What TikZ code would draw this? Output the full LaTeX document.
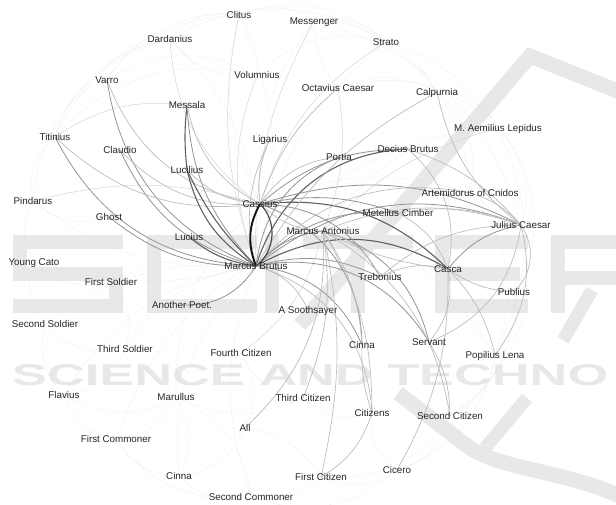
\documentclass[tikz,border=0pt]{standalone}
\usepackage{fontspec}
\setmainfont{Liberation Sans}
\pgfdeclarelayer{wmark}
\pgfdeclarelayer{edges}
\pgfsetlayers{wmark,edges,main}
\newcommand{\edg}[4]{\draw[#1] (#2.center) to[#3] (#4.center);}
\begin{document}
\begin{tikzpicture}[x=1pt,y=-1pt,
  lbl/.style={font=\fontsize{9.8}{11}\selectfont, text=black!85, inner sep=0pt, text height=7pt, text depth=0pt},
  eA/.style={draw=black!92, line width=1.9pt},
  eAA/.style={draw=black!70, line width=1.2pt},
  eB/.style={draw=black!62, line width=1.1pt},
  eC/.style={draw=black!42, line width=0.8pt},
  eD/.style={draw=black!27, line width=0.65pt},
  eE/.style={draw=black!16, line width=0.5pt},
  bgE/.style={draw=black!16, line width=0.35pt, densely dotted},
  wm/.style={draw=black!9, line width=14pt},
  wmt/.style={text=black!9, inner sep=0pt}]
\useasboundingbox (0,0) rectangle (616,504);
% ---------- nodes ----------
\node[lbl] (clitus) at (239,15) {Clitus};
\node[lbl] (messenger) at (314,21) {Messenger};
\node[lbl] (dardanius) at (170,39) {Dardanius};
\node[lbl] (strato) at (386,42) {Strato};
\node[lbl] (volumnius) at (257,75) {Volumnius};
\node[lbl] (octavius) at (338,88) {Octavius Caesar};
\node[lbl] (varro) at (107,80) {Varro};
\node[lbl] (calpurnia) at (437,92) {Calpurnia};
\node[lbl] (messala) at (187,105) {Messala};
\node[lbl] (lepidus) at (498,128) {M. Aemilius Lepidus};
\node[lbl] (titinius) at (55,137) {Titinius};
\node[lbl] (claudio) at (120,150) {Claudio};
\node[lbl] (ligarius) at (270,139) {Ligarius};
\node[lbl] (decius) at (408,149) {Decius Brutus};
\node[lbl] (portia) at (339,157) {Portia};
\node[lbl] (lucilius) at (187,170) {Lucilius};
\node[lbl] (pindarus) at (33,201) {Pindarus};
\node[lbl] (cassius) at (260,204) {Cassius};
\node[lbl] (ghost) at (109,217) {Ghost};
\node[lbl] (artemidorus) at (470,193) {Artemidorus of Cnidos};
\node[lbl] (metellus) at (398,213) {Metellus Cimber};
\node[lbl] (marcant) at (323,231) {Marcus Antonius};
\node[lbl] (julius) at (521,225) {Julius Caesar};
\node[lbl] (lucius) at (189,237) {Lucius};
\node[lbl] (youngcato) at (34,262) {Young Cato};
\node[lbl] (mb) at (256,266) {Marcus Brutus};
\node[lbl] (casca) at (448,269) {Casca};
\node[lbl] (trebonius) at (380,277) {Trebonius};
\node[lbl] (firstsoldier) at (111,282) {First Soldier};
\node[lbl] (publius) at (514,292) {Publius};
\node[lbl] (anotherpoet) at (182,305) {Another Poet.};
\node[lbl] (soothsayer) at (308,310) {A Soothsayer};
\node[lbl] (secondsoldier) at (45,324) {Second Soldier};
\node[lbl] (thirdsoldier) at (125,349) {Third Soldier};
\node[lbl] (fourthcit) at (241,353) {Fourth Citizen};
\node[lbl] (cinna) at (362,345) {Cinna};
\node[lbl] (servant) at (429,342) {Servant};
\node[lbl] (popilius) at (495,355) {Popilius Lena};
\node[lbl] (flavius) at (64,395) {Flavius};
\node[lbl] (marullus) at (176,397) {Marullus};
\node[lbl] (thirdcit) at (303,398) {Third Citizen};
\node[lbl] (citizens) at (372,413) {Citizens};
\node[lbl] (secondcit) at (450,416) {Second Citizen};
\node[lbl] (all) at (245,428) {All};
\node[lbl] (firstcommoner) at (116,439) {First Commoner};
\node[lbl] (cicero) at (397,470) {Cicero};
\node[lbl] (firstcit) at (321,477) {First Citizen};
\node[lbl] (cinnatwo) at (179,476) {Cinna};
\node[lbl] (secondcommoner) at (251,497) {Second Commoner};
% ---------- watermark ----------
\begin{pgfonlayer}{wmark}
\fill[white] (0,0) rectangle (616,504);
\draw[wm] (123,242) -- (20,242) -- (20,274) -- (116,274) -- (116,306) -- (13,306);
\draw[wm] (257,242) -- (154,242) -- (154,306) -- (257,306);
\draw[wm] (272,235) -- (272,313);
\draw[wm] (303,242) -- (413,242) (358,242) -- (358,313);
\draw[wm] (528,242) -- (442,242) -- (442,306) -- (528,306) (442,274) -- (520,274);
\draw[wm] (558,313) -- (558,242) -- (640,242) -- (640,278) -- (558,278);
\draw[wm, line width=15pt] (620,92) -- (530,56) -- (300,325);
\draw[wm, line width=15pt] (398,393) -- (470,448) .. controls (505,470) and (560,470) .. (620,496);
\draw[wm, line width=13pt] (485,448) -- (527,398) (563,340) -- (592,290);
\node[wmt, anchor=north west] (wmtext) at (12,364) {\resizebox{596pt}{21pt}{\bfseries SCIENCE AND TECHNO}};
\end{pgfonlayer}
% ---------- edges ----------
\begin{pgfonlayer}{edges}
% faint background
\edg{bgE}{clitus}{bend left=30}{messenger}
\edg{bgE}{clitus}{bend right=30}{dardanius}
\edg{bgE}{clitus}{bend left=20}{volumnius}
\edg{bgE}{clitus}{bend left=30}{strato}
\edg{bgE}{clitus}{bend right=30}{varro}
\edg{bgE}{clitus}{bend right=30}{titinius}
\edg{bgE}{clitus}{bend left=20}{mb}
\edg{bgE}{clitus}{bend right=20}{cassius}
\edg{bgE}{dardanius}{bend left=30}{strato}
\edg{bgE}{dardanius}{bend right=30}{volumnius}
\edg{bgE}{dardanius}{bend right=30}{titinius}
\edg{bgE}{dardanius}{bend right=35}{pindarus}
\edg{bgE}{dardanius}{bend left=25}{mb}
\edg{bgE}{messenger}{bend left=30}{strato}
\edg{bgE}{messenger}{bend right=20}{octavius}
\edg{bgE}{messenger}{bend left=30}{calpurnia}
\edg{bgE}{messenger}{bend left=30}{julius}
\edg{bgE}{messenger}{bend right=20}{cassius}
\edg{bgE}{strato}{bend right=30}{volumnius}
\edg{bgE}{strato}{bend left=20}{lepidus}
\edg{bgE}{strato}{bend left=25}{artemidorus}
\edg{bgE}{strato}{bend right=20}{mb}
\edg{bgE}{volumnius}{bend right=30}{varro}
\edg{bgE}{volumnius}{bend right=30}{titinius}
\edg{bgE}{octavius}{bend left=30}{lepidus}
\edg{bgE}{octavius}{bend left=25}{calpurnia}
\edg{bgE}{octavius}{bend right=25}{mb}
\edg{bgE}{calpurnia}{bend left=30}{lepidus}
\edg{bgE}{calpurnia}{bend left=30}{artemidorus}
\edg{bgE}{lepidus}{bend left=30}{julius}
\edg{bgE}{lepidus}{bend left=35}{publius}
\edg{bgE}{lepidus}{bend right=25}{marcant}
\edg{bgE}{lepidus}{bend left=25}{popilius}
\edg{bgE}{artemidorus}{bend left=35}{publius}
\edg{bgE}{artemidorus}{bend left=30}{popilius}
\edg{bgE}{julius}{bend left=35}{secondcit}
\edg{bgE}{publius}{bend left=30}{popilius}
\edg{bgE}{publius}{bend left=30}{secondcit}
\edg{bgE}{popilius}{bend left=30}{secondcit}
\edg{bgE}{popilius}{bend left=30}{cicero}
\edg{bgE}{secondcit}{bend left=30}{cicero}
\edg{bgE}{secondcit}{bend left=30}{firstcit}
\edg{bgE}{cicero}{bend left=30}{firstcit}
\edg{bgE}{cicero}{bend left=30}{secondcommoner}
\edg{bgE}{firstcit}{bend left=30}{secondcommoner}
\edg{bgE}{firstcit}{bend right=25}{all}
\edg{bgE}{secondcommoner}{bend left=30}{cinnatwo}
\edg{bgE}{secondcommoner}{bend left=30}{firstcommoner}
\edg{bgE}{secondcommoner}{bend right=30}{marullus}
\edg{bgE}{cinnatwo}{bend left=30}{firstcommoner}
\edg{bgE}{cinnatwo}{bend right=30}{marullus}
\edg{bgE}{cinnatwo}{bend right=30}{all}
\edg{bgE}{firstcommoner}{bend left=30}{flavius}
\edg{bgE}{firstcommoner}{bend right=30}{marullus}
\edg{bgE}{flavius}{bend right=30}{marullus}
\edg{bgE}{flavius}{bend left=30}{secondsoldier}
\edg{bgE}{flavius}{bend right=30}{thirdsoldier}
\edg{bgE}{marullus}{bend right=25}{thirdcit}
\edg{bgE}{thirdsoldier}{bend left=30}{secondsoldier}
\edg{bgE}{thirdsoldier}{bend right=30}{firstsoldier}
\edg{bgE}{secondsoldier}{bend left=30}{youngcato}
\edg{bgE}{youngcato}{bend left=30}{pindarus}
\edg{bgE}{youngcato}{bend right=30}{firstsoldier}
\edg{bgE}{pindarus}{bend left=30}{titinius}
\edg{bgE}{pindarus}{bend right=30}{ghost}
\edg{bgE}{titinius}{bend left=30}{varro}
\edg{bgE}{varro}{bend left=30}{dardanius}
\edg{bgE}{fourthcit}{bend right=30}{thirdcit}
\edg{bgE}{fourthcit}{bend left=30}{all}
\edg{bgE}{thirdcit}{bend right=30}{citizens}
\edg{bgE}{citizens}{bend right=30}{cicero}
\edg{bgE}{pindarus}{bend right=20}{mb}
\edg{bgE}{youngcato}{bend right=15}{mb}
\edg{bgE}{secondsoldier}{bend left=20}{mb}
\edg{bgE}{firstsoldier}{bend left=20}{mb}
\edg{bgE}{thirdsoldier}{bend left=25}{mb}
\edg{bgE}{flavius}{bend left=25}{mb}
\edg{bgE}{marullus}{bend left=25}{cassius}
\edg{bgE}{firstcommoner}{bend left=25}{marcant}
\edg{bgE}{cinnatwo}{bend left=25}{mb}
\edg{bgE}{secondcommoner}{bend left=20}{mb}
\edg{bgE}{popilius}{bend right=25}{cassius}
\edg{bgE}{publius}{bend right=25}{mb}
\edg{bgE}{artemidorus}{bend right=20}{cassius}
\edg{bgE}{lepidus}{bend right=25}{mb}
% light named edges
\edg{eE}{volumnius}{bend right=20}{mb}
\edg{eE}{dardanius}{bend right=25}{cassius}
\edg{eE}{clitus}{bend right=15}{mb}
\edg{eE}{strato}{bend right=20}{cassius}
\edg{eE}{messenger}{bend right=15}{mb}
\edg{eE}{titinius}{bend left=20}{messala}
\edg{eE}{pindarus}{bend left=15}{cassius}
\edg{eE}{octavius}{bend left=15}{marcant}
\edg{eE}{fourthcit}{bend right=20}{marcant}
\edg{eE}{lepidus}{bend right=15}{marcant}
% left cluster
\edg{eC}{varro}{bend right=30}{mb}
\edg{eD}{varro}{bend right=30}{cassius}
\edg{eC}{titinius}{bend right=30}{mb}
\edg{eD}{titinius}{bend right=25}{cassius}
\edg{eC}{claudio}{bend right=25}{mb}
\edg{eD}{claudio}{bend right=25}{cassius}
\edg{eB}{messala}{bend right=6}{lucilius}
\edg{eC}{messala}{bend right=20}{mb}
\edg{eD}{messala}{bend right=25}{cassius}
\edg{eB}{lucilius}{bend right=22}{mb}
\edg{eB}{lucilius}{bend right=10}{mb}
\edg{eD}{lucilius}{bend right=20}{cassius}
\edg{eC}{ghost}{bend right=20}{mb}
\edg{eB}{lucius}{bend right=15}{mb}
\edg{eC}{anotherpoet}{bend right=30}{mb}
\edg{eD}{ligarius}{bend right=20}{mb}
\edg{eD}{ligarius}{bend right=15}{cassius}
% right side
\edg{eB}{mb}{bend left=30}{casca}
\edg{eB}{cassius}{bend left=25}{casca}
\edg{eC}{mb}{bend left=25}{metellus}
\edg{eC}{cassius}{bend left=15}{metellus}
\edg{eB}{mb}{bend left=35}{decius}
\edg{eC}{cassius}{bend left=20}{decius}
\edg{eC}{mb}{bend left=30}{portia}
\edg{eD}{cassius}{bend left=25}{portia}
\edg{eC}{mb}{bend left=20}{marcant}
\edg{eD}{cassius}{bend right=20}{marcant}
\edg{eC}{mb}{bend left=20}{trebonius}
\edg{eC}{cassius}{bend left=30}{trebonius}
\edg{eC}{mb}{bend left=30}{julius}
\edg{eC}{cassius}{bend left=22}{julius}
\edg{eC}{mb}{bend left=35}{servant}
\edg{eC}{mb}{bend left=30}{cinna}
\edg{eC}{cassius}{bend left=35}{cinna}
\edg{eD}{mb}{bend left=25}{soothsayer}
\edg{eD}{mb}{bend left=35}{citizens}
\edg{eD}{calpurnia}{bend right=15}{mb}
\edg{eD}{octavius}{bend right=15}{cassius}
\edg{eD}{mb}{bend left=30}{artemidorus}
% Marcus Antonius
\edg{eC}{marcant}{bend left=30}{servant}
\edg{eD}{marcant}{bend left=25}{secondcit}
\edg{eD}{marcant}{bend left=15}{citizens}
\edg{eD}{marcant}{bend left=12}{firstcit}
\edg{eD}{marcant}{bend left=25}{trebonius}
\edg{eD}{marcant}{bend right=10}{casca}
\edg{eD}{marcant}{bend left=15}{cinna}
\edg{eD}{all}{bend right=25}{marcant}
\edg{eD}{thirdcit}{bend right=15}{marcant}
% Julius Caesar
\edg{eC}{casca}{bend left=20}{julius}
\edg{eD}{julius}{bend left=40}{publius}
\edg{eD}{julius}{bend right=15}{artemidorus}
\edg{eD}{calpurnia}{bend right=20}{julius}
\edg{eD}{decius}{bend left=15}{julius}
\edg{eD}{metellus}{bend left=15}{julius}
\edg{eD}{trebonius}{bend left=20}{julius}
\edg{eD}{julius}{bend left=25}{popilius}
\edg{eD}{julius}{bend left=30}{servant}
\edg{eD}{marcant}{bend left=20}{julius}
% others
\edg{eD}{casca}{bend right=20}{trebonius}
\edg{eD}{casca}{bend left=25}{servant}
\edg{eD}{cicero}{bend right=15}{casca}
\edg{eD}{citizens}{bend left=10}{cinna}
\edg{eD}{secondcit}{bend right=15}{servant}
\edg{eD}{firstcit}{bend right=20}{citizens}
\edg{eD}{metellus}{bend left=20}{casca}
\edg{eD}{decius}{bend left=30}{casca}
\edg{eD}{casca}{bend right=15}{publius}
\edg{eD}{casca}{bend left=15}{popilius}
% Cassius - Marcus Brutus
\edg{eA}{cassius}{bend right=25}{mb}
\edg{eAA}{cassius}{bend left=50}{mb}
\end{pgfonlayer}
\end{tikzpicture}
\end{document}
